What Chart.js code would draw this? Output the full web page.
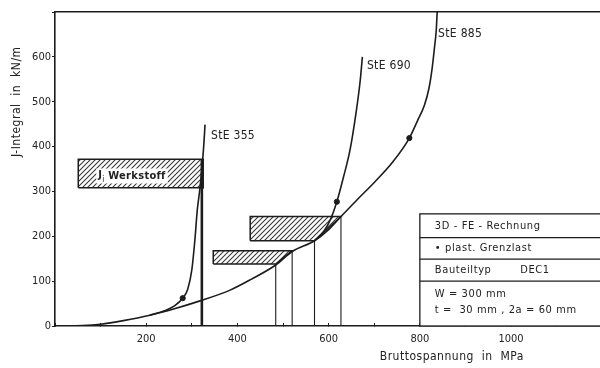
<!DOCTYPE html>
<html>
<head>
<meta charset="utf-8">
<script src="https://cdn.jsdelivr.net/npm/chart.js@4.4.0/dist/chart.umd.min.js"></script>
<style>
  html, body { margin: 0; padding: 0; background: #fff; }
  #wrap { width: 600px; height: 368px; }
</style>
</head>
<body>
<div id="wrap"><canvas id="chart" width="600" height="368"></canvas></div>
<script>
// Bruttospannung (MPa) vs J-Integral (kN/m)

// StE 885 curve, also the common lower branch
const ste885X = [0, 60, 100, 150, 208, 260, 318, 384, 430, 484, 520, 569, 600, 627, 662, 700, 740, 777, 795, 810, 820, 827, 832, 836, 838];
const ste885J = [0, 1, 4, 12, 24, 38, 56, 80, 104, 136, 166, 190, 215, 244, 281, 320, 365, 419, 458, 492, 530, 575, 620, 660, 700];

// StE 690 branches off near 570 MPa
const ste690X = [569, 590, 605, 618, 632, 647, 661, 669, 674];
const ste690J = [190, 212, 240, 277, 330, 393, 482, 545, 600];

// StE 355 branches off near 210 MPa
const ste355X = [208, 240, 262, 280, 291, 300, 307, 312, 317, 322, 326, 329];
const ste355J = [24, 34, 45, 62, 82, 125, 195, 259, 300, 350, 400, 449];

// plastic limit load markers
const limitX = [280, 618, 777];
const limitJ = [62, 277, 419];

// vertical drop lines to the stress axis
const dropX = [484, 520, 569, 627];
const dropJ = [138, 168, 190, 244];
const thickDropX = 322;
const thickDropJ = 372;

// hatched J bands: left edge, bottom, top, right end at top and bottom
const bandLeft = [51, 428, 347];
const bandBottom = [308, 190, 138];
const bandTop = [372, 244, 168];
const bandRightTop = [325, 627, 520];
const bandRightBottom = [325, 569, 484];

// axis ticks
const xMax = 1195;
const yMax = 700;
const xTickLabels = [200, 400, 600, 800, 1000];
const yTickLabels = [0, 100, 200, 300, 400, 500, 600];

const FONT = "'DejaVu Sans Condensed', 'Liberation Sans Narrow', sans-serif";
const INK = '#1c1c1c';

function toPoints(xs, ys) {
  return xs.map((x, i) => ({ x: x, y: ys[i] }));
}

// small tile with a "////" stroke, repeated as fill
function makeHatch() {
  const c = document.createElement('canvas');
  c.width = 5;
  c.height = 5;
  const g = c.getContext('2d');
  g.fillStyle = '#fff';
  g.fillRect(0, 0, 5, 5);
  g.strokeStyle = '#3a3a3a';
  g.lineWidth = 1.1;
  g.beginPath();
  g.moveTo(-1, 6); g.lineTo(6, -1);
  g.moveTo(-1, 1); g.lineTo(1, -1);
  g.moveTo(4, 6); g.lineTo(6, 4);
  g.stroke();
  return g.createPattern(c, 'repeat');
}
const hatch = makeHatch();

const curveStyle = {
  borderColor: INK,
  borderWidth: 1.6,
  pointRadius: 0,
  fill: false,
  cubicInterpolationMode: 'monotone',
  order: 1,
};

const datasets = [
  { label: 'StE 885', data: toPoints(ste885X, ste885J), ...curveStyle },
  { label: 'StE 690', data: toPoints(ste690X, ste690J), ...curveStyle },
  { label: 'StE 355', data: toPoints(ste355X, ste355J), ...curveStyle },
  {
    label: 'plast. Grenzlast',
    data: toPoints(limitX, limitJ),
    showLine: false,
    pointRadius: 2.6,
    pointBackgroundColor: INK,
    pointBorderColor: INK,
    order: 0,
  },
  {
    label: 'drop',
    data: [{ x: thickDropX, y: 0 }, { x: thickDropX, y: thickDropJ }],
    borderColor: INK,
    borderWidth: 2.6,
    pointRadius: 0,
    tension: 0,
    order: 2,
  },
];

dropX.forEach((x, i) => {
  datasets.push({
    label: 'drop',
    data: [{ x: x, y: 0 }, { x: x, y: dropJ[i] }],
    borderColor: INK,
    borderWidth: 1.1,
    pointRadius: 0,
    tension: 0,
    order: 2,
  });
});

bandLeft.forEach((l, i) => {
  datasets.push({
    label: 'band',
    data: [
      { x: l, y: bandBottom[i] },
      { x: l, y: bandTop[i] },
      { x: bandRightTop[i], y: bandTop[i] },
      { x: bandRightBottom[i], y: bandBottom[i] },
      { x: l, y: bandBottom[i] },
    ],
    borderColor: INK,
    borderWidth: 1.5,
    backgroundColor: hatch,
    fill: 'shape',
    pointRadius: 0,
    tension: 0,
    order: 5,
  });
});

// text positions in data units
const curveLabels = [
  { text: 'StE 355', x: 342, y: 424 },
  { text: 'StE 690', x: 684, y: 580 },
  { text: 'StE 885', x: 840, y: 652 },
];
const tableLeft = 800;
const tableRows = [250, 197, 149, 100, 0];

const annotations = {
  id: 'annotations',
  afterDatasetsDraw(chart) {
    const ctx = chart.ctx;
    const xs = chart.scales.x;
    const ys = chart.scales.y;
    const area = chart.chartArea;
    ctx.save();
    ctx.fillStyle = '#222';
    ctx.textBaseline = 'middle';

    // curve names
    ctx.font = '12px ' + FONT;
    ctx.textAlign = 'left';
    ctx.letterSpacing = '0.3px';
    curveLabels.forEach(l => {
      ctx.fillText(l.text, xs.getPixelForValue(l.x), ys.getPixelForValue(l.y));
    });

    // J_i Werkstoff inside first band
    const bx = xs.getPixelForValue(bandLeft[0]) + 20;
    const by = ys.getPixelForValue((bandBottom[0] + bandTop[0]) / 2) + 3;
    ctx.font = 'bold 11px ' + FONT;
    const w1 = ctx.measureText('J').width;
    ctx.font = '8px ' + FONT;
    const w2 = ctx.measureText('i').width;
    ctx.font = 'bold 11px ' + FONT;
    const w3 = ctx.measureText(' Werkstoff').width;
    ctx.fillStyle = '#fff';
    ctx.fillRect(bx - 2, by - 8, w1 + w2 + w3 + 4, 15);
    ctx.fillStyle = '#222';
    ctx.fillText('J', bx, by - 1);
    ctx.font = '8px ' + FONT;
    ctx.fillText('i', bx + w1, by + 3);
    ctx.font = 'bold 11px ' + FONT;
    ctx.fillText(' Werkstoff', bx + w1 + w2, by);

    // info table
    const tl = xs.getPixelForValue(tableLeft);
    const tr = area.right + 2;
    const rowPx = tableRows.map(v => ys.getPixelForValue(v));
    ctx.fillStyle = '#fff';
    ctx.fillRect(tl, rowPx[0], tr - tl, rowPx[4] - rowPx[0]);
    ctx.strokeStyle = INK;
    ctx.lineWidth = 1.3;
    ctx.strokeRect(tl, rowPx[0], tr - tl, rowPx[4] - rowPx[0]);
    ctx.beginPath();
    for (let i = 1; i < 4; i++) {
      ctx.moveTo(tl, rowPx[i]);
      ctx.lineTo(tr, rowPx[i]);
    }
    ctx.stroke();

    ctx.fillStyle = '#222';
    ctx.font = '11px ' + FONT;
    ctx.letterSpacing = '0.6px';
    const tx = tl + 15;
    ctx.fillText('3D - FE - Rechnung', tx, (rowPx[0] + rowPx[1]) / 2);
    ctx.fillText('\u2022 plast. Grenzlast', tx, (rowPx[1] + rowPx[2]) / 2);
    ctx.fillText('Bauteiltyp', tx, (rowPx[2] + rowPx[3]) / 2);
    ctx.fillText('DEC1', xs.getPixelForValue(1020), (rowPx[2] + rowPx[3]) / 2);
    const h4 = rowPx[4] - rowPx[3];
    ctx.fillText('W = 300 mm', tx, rowPx[3] + h4 * 0.28);
    ctx.fillText('t =  30 mm , 2a = 60 mm', tx, rowPx[3] + h4 * 0.65);

    // axis titles
    ctx.font = '12px ' + FONT;
    ctx.letterSpacing = '0.5px';
    ctx.textAlign = 'center';
    ctx.fillText('Bruttospannung  in  MPa', xs.getPixelForValue(870), area.bottom + 31);
    ctx.translate(17, ys.getPixelForValue(500));
    ctx.rotate(-Math.PI / 2);
    ctx.fillText('J-Integral  in  kN/m', 0, 0);
    ctx.restore();
  },
};

new Chart(document.getElementById('chart'), {
  type: 'line',
  data: { datasets: datasets },
  options: {
    responsive: false,
    animation: false,
    devicePixelRatio: 1,
    layout: { autoPadding: false, padding: { top: 12, right: 0, left: 0, bottom: 0 } },
    plugins: {
      legend: { display: false },
      tooltip: { enabled: false },
    },
    scales: {
      x: {
        type: 'linear',
        min: 0,
        max: xMax,
        afterFit: s => { s.height = 42; s.paddingLeft = 0; s.paddingRight = 0; },
        afterBuildTicks: s => {
          const t = [];
          for (let v = 0; v <= xMax; v += 100) t.push({ value: v });
          s.ticks = t;
        },
        ticks: {
          autoSkip: false,
          maxRotation: 0,
          padding: 10,
          color: '#222',
          font: { family: FONT, size: 11 },
          callback: v => (xTickLabels.includes(v) ? String(v) : ''),
        },
        grid: { drawOnChartArea: false, tickLength: -3, color: INK, lineWidth: 1 },
        border: { color: INK, width: 1.6 },
      },
      xTop: {
        type: 'linear',
        position: 'top',
        min: 0,
        max: xMax,
        afterFit: s => { s.height = 0; s.paddingLeft = 0; s.paddingRight = 0; },
        ticks: { display: false },
        grid: { drawOnChartArea: false, drawTicks: false },
        border: { color: INK, width: 1.4 },
      },
      y: {
        type: 'linear',
        min: 0,
        max: yMax,
        afterFit: s => { s.width = 55; s.paddingTop = 0; s.paddingBottom = 0; },
        afterBuildTicks: s => {
          const t = [];
          for (let v = 0; v <= yMax; v += 100) t.push({ value: v });
          s.ticks = t;
        },
        ticks: {
          autoSkip: false,
          padding: 1,
          color: '#222',
          font: { family: FONT, size: 11 },
          callback: v => (yTickLabels.includes(v) ? String(v) : ''),
        },
        grid: { drawOnChartArea: false, tickLength: 3, color: INK, lineWidth: 1 },
        border: { color: INK, width: 1.6 },
      },
    },
  },
  plugins: [annotations],
});
</script>
</body>
</html>
